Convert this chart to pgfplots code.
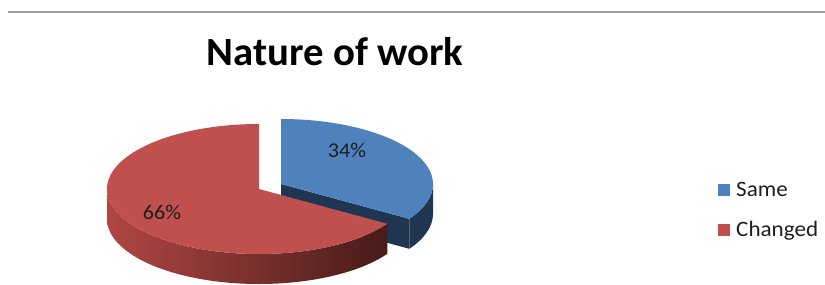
\documentclass[border=0pt]{standalone}
\usepackage{pgfplots}
\usepackage{pgfplotstable}
\pgfplotsset{compat=1.18}
\usepackage{fontspec}
\setmainfont{Carlito}
\definecolor{sameTop}{RGB}{79,129,189}
\definecolor{sameWall}{RGB}{31,53,82}
\definecolor{chgTop}{RGB}{192,80,77}
\definecolor{chgWallL}{RGB}{176,70,67}
\definecolor{chgWallR}{RGB}{70,27,25}
\definecolor{txt}{RGB}{30,30,30}

\pgfplotstableread{
label value
Same 34
Changed 66
}\piedata

\begin{document}
\begin{tikzpicture}
\pgfplotstablegetelem{0}{value}\of\piedata
\pgfmathtruncatemacro\vSame{\pgfplotsretval}
\pgfplotstablegetelem{1}{value}\of\piedata
\pgfmathtruncatemacro\vChg{\pgfplotsretval}
% angles: Changed from 90 ccw, Same the rest
\pgfmathsetmacro\aSplit{90+3.6*\vChg-360}% = 90 - 3.6*Same
\pgfmathsetmacro\rx{152}
\pgfmathsetmacro\ry{65}
\pgfmathsetmacro\hh{30}
% centres (pixel-like units, y up)
\pgfmathsetmacro\cxR{259}\pgfmathsetmacro\cyR{96}
\pgfmathsetmacro\cxB{281}\pgfmathsetmacro\cyB{101}
\pgfmathsetmacro\pxB{\cxB+\rx*cos(\aSplit)}
\pgfmathsetmacro\pyB{\cyB+\ry*sin(\aSplit)}
\begin{axis}[width=825bp,height=285bp,scale only axis,
  xmin=0,xmax=825,ymin=0,ymax=285,hide axis,clip=true]
\path (axis cs:0,0) rectangle (axis cs:825,285);
% top rule
\draw[color=gray!75,line width=2bp] (axis cs:8,273) -- (axis cs:825,273);
% title
\node[anchor=base,font=\fontsize{40bp}{48bp}\selectfont\bfseries,text=black,xscale=1.02]
  at (axis cs:335,219) {Nature of work};
% ---- Same slice (exploded) ----
\fill[sameWall] (axis cs:\cxB,\cyB) -- (axis cs:\pxB,\pyB) -- (axis cs:\pxB,\pyB-\hh) -- (axis cs:\cxB,\cyB-\hh) -- cycle;
\fill[sameWall] (axis cs:\pxB,\pyB) arc[start angle=\aSplit,end angle=0,x radius=\rx bp,y radius=\ry bp]
  -- ++(0,-\hh bp) arc[start angle=0,end angle=\aSplit,x radius=\rx bp,y radius=\ry bp] -- cycle;
\fill[sameTop] (axis cs:\cxB,\cyB) -- (axis cs:\pxB,\pyB) arc[start angle=\aSplit,end angle=90,x radius=\rx bp,y radius=\ry bp] -- cycle;
% ---- Changed slice ----
\shade[left color=chgWallL,right color=chgWallR]
  (axis cs:\cxR-\rx,\cyR) arc[start angle=180,end angle=360+\aSplit,x radius=\rx bp,y radius=\ry bp]
  -- ++(0,-\hh bp) arc[start angle=360+\aSplit,end angle=180,x radius=\rx bp,y radius=\ry bp] -- cycle;
\fill[chgTop] (axis cs:\cxR,\cyR) -- (axis cs:\cxR,\cyR+\ry) arc[start angle=90,end angle=360+\aSplit,x radius=\rx bp,y radius=\ry bp] -- cycle;
% data labels
\node[anchor=base,font=\fontsize{21bp}{25bp}\selectfont,text=txt,xscale=1.05] at (axis cs:347,127) {\vSame\%};
\node[anchor=base,font=\fontsize{21bp}{25bp}\selectfont,text=txt,xscale=1.05] at (axis cs:162,65) {\vChg\%};
% legend
\fill[sameTop] (axis cs:718,89) rectangle (axis cs:730,101);
\fill[chgTop] (axis cs:718,49) rectangle (axis cs:730,61);
\node[anchor=base west,font=\fontsize{22bp}{26bp}\selectfont,text=txt,inner sep=0pt,xscale=1.05] at (axis cs:736,88) {Same};
\node[anchor=base west,font=\fontsize{22bp}{26bp}\selectfont,text=txt,inner sep=0pt,xscale=1.05] at (axis cs:736,48) {Changed};
\end{axis}
\end{tikzpicture}
\end{document}
